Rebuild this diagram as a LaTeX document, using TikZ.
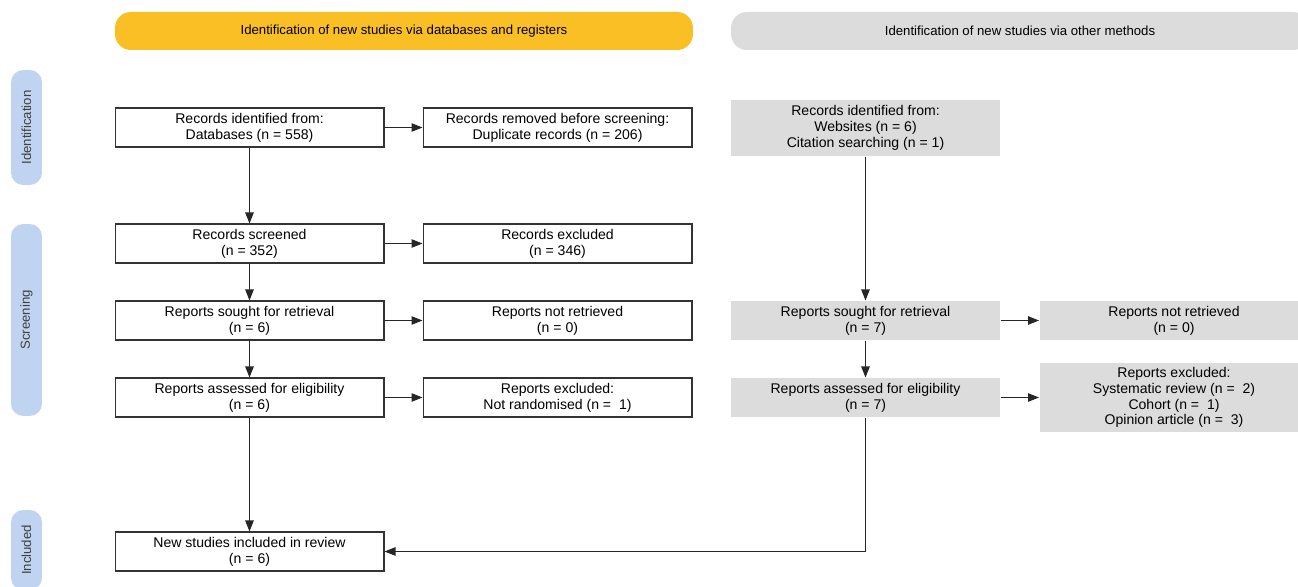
\documentclass[tikz,border=0pt]{standalone}
\usepackage{fontspec}
\setmainfont{Liberation Sans}
\usepackage{xcolor}
\usetikzlibrary{arrows.meta}

\definecolor{dbyellow}{HTML}{FBBF26}
\definecolor{othgray}{HTML}{DCDCDC}
\definecolor{phaseblue}{HTML}{C0D3F0}
\definecolor{edgegray}{HTML}{333333}

\begin{document}
\begin{tikzpicture}[
    x=0.02cm, y=-0.02cm,
    font=\fontsize{8}{9}\selectfont,
    box/.style={
        rectangle,
        draw=edgegray,
        line width=0.6pt,
        align=center,
        minimum width=5.38cm,
        minimum height=0.78cm,
        inner sep=0pt,
        fill=white
    },
    graybox/.style={
        box,
        draw=none,
        fill=othgray
    },
    header/.style={
        rectangle,
        rounded corners=9pt,
        align=center,
        minimum width=11.56cm,
        minimum height=0.76cm,
        inner sep=0pt,
        font=\fontsize{7.5}{8}\selectfont
    },
    phase/.style={
        rectangle,
        rounded corners=7pt,
        fill=phaseblue,
        minimum height=0.62cm,
        inner sep=0pt,
        rotate=90,
        text=black!75,
        font=\fontsize{7.5}{8}\selectfont
    },
    arrow/.style={
        -{Triangle[length=2.2mm,width=1.7mm]},
        line width=0.6pt,
        draw=black!85
    }
]
\useasboundingbox (0,0) rectangle (1298,587);
\clip (0,0) rectangle (1298,587);

% =========================================================
% Headers and phase labels
% =========================================================
\node[header, fill=dbyellow] (dbhead) at (404,31)
{Identification of new studies via databases and registers};

\node[header, fill=othgray] (othhead) at (1020,31)
{Identification of new studies via other methods};

\node[phase, minimum width=2.30cm] (idphase) at (26.5,127.5) {Identification};
\node[phase, minimum width=3.84cm] (scrphase) at (26.5,320) {Screening};
\node[phase, minimum width=1.60cm] (incphase) at (26.5,550) {Included};

% =========================================================
% Databases and registers
% =========================================================
\node[box] (dbident) at (249.5,127.5)
{Records identified from:\\Databases (n = 558)};

\node[box] (dbremoved) at (557.5,127.5)
{Records removed before screening:\\Duplicate records (n = 206)};

\node[box] (dbscreened) at (249.5,243.5)
{Records screened\\(n = 352)};

\node[box] (dbexcl) at (557.5,243.5)
{Records excluded\\(n = 346)};

\node[box] (dbsought) at (249.5,320.5)
{Reports sought for retrieval\\(n = 6)};

\node[box] (dbnotret) at (557.5,320.5)
{Reports not retrieved\\(n = 0)};

\node[box] (dbassess) at (249.5,397.5)
{Reports assessed for eligibility\\(n = 6)};

\node[box] (dbrepexcl) at (557.5,397.5)
{Reports excluded:\\Not randomised (n =\ \ 1)};

\node[box] (included) at (249.5,551.5)
{New studies included in review\\(n = 6)};

% =========================================================
% Other methods
% =========================================================
\node[graybox, minimum height=1.12cm] (othident) at (865.5,128)
{Records identified from:\\Websites (n = 6)\\Citation searching (n = 1)};

\node[graybox] (othsought) at (865.5,320.5)
{Reports sought for retrieval\\(n = 7)};

\node[graybox] (othnotret) at (1174,320.5)
{Reports not retrieved\\(n = 0)};

\node[graybox] (othassess) at (865.5,397.5)
{Reports assessed for eligibility\\(n = 7)};

\node[graybox, minimum height=1.38cm] (othrepexcl) at (1174,397.5)
{Reports excluded:\\Systematic review (n =\ \ 2)\\Cohort (n =\ \ 1)\\Opinion article (n =\ \ 3)};

% =========================================================
% Arrows
% =========================================================
\draw[arrow] (dbident) -- (dbremoved);
\draw[arrow] (dbident) -- (dbscreened);
\draw[arrow] (dbscreened) -- (dbexcl);
\draw[arrow] (dbscreened) -- (dbsought);
\draw[arrow] (dbsought) -- (dbnotret);
\draw[arrow] (dbsought) -- (dbassess);
\draw[arrow] (dbassess) -- (dbrepexcl);
\draw[arrow] (dbassess) -- (included);

\draw[arrow] (othident) -- (othsought);
\draw[arrow] (othsought) -- (othnotret);
\draw[arrow] (othsought) -- (othassess);
\draw[arrow] (othassess) -- (othrepexcl);
\draw[arrow] (othassess.south) |- (included.east);

\end{tikzpicture}
\end{document}
